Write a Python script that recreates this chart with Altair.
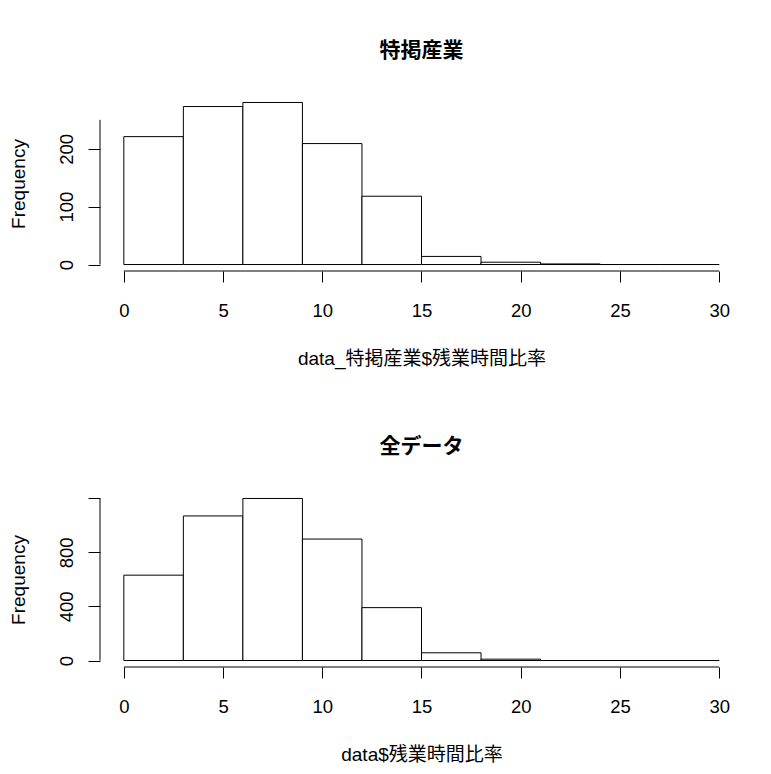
import altair as alt
import pandas as pd

# ---- data ----
bin_starts = [0, 3, 6, 9, 12, 15, 18, 21, 24, 27]
bin_ends = [3, 6, 9, 12, 15, 18, 21, 24, 27, 30]
counts_special = [221, 273, 280, 209, 118, 14, 4, 1, 0, 0]
counts_all = [631, 1069, 1198, 898, 391, 57, 10, 0, 0, 0]

x_ticks = [0, 5, 10, 15, 20, 25, 30]
y_ticks_special = [0, 50, 100, 150, 200, 250]
y_labels_special = [0, 100, 200]
y_ticks_all = [0, 200, 400, 600, 800, 1000, 1200]
y_labels_all = [0, 400, 800]

title_special = "特掲産業"
title_all = "全データ"
xtitle_special = "data_特掲産業$残業時間比率"
xtitle_all = "data$残業時間比率"
ytitle = "Frequency"

W, H = 643, 175
LATIN = "Liberation Sans"
MIXED = "Liberation Sans, Noto Sans CJK JP"


def panel(counts, yticks, ylabels, title, xtitle):
    df = pd.DataFrame({"start": bin_starts, "end": bin_ends, "count": counts})
    m = max(counts)
    xdom = [-0.04 * 30, 30 * 1.04]
    ydom = [-0.04 * m, 1.04 * m]
    xscale = alt.Scale(domain=xdom, nice=False, zero=False)
    yscale = alt.Scale(domain=ydom, nice=False, zero=False)
    lab_list = "[" + ",".join(str(v) for v in ylabels) + "]"
    bars = alt.Chart(df).mark_rect(fill="white", stroke="black", strokeWidth=1).encode(
        x=alt.X("start:Q", scale=xscale,
                axis=alt.Axis(values=x_ticks, title=xtitle, domain=False, grid=False,
                              tickSize=11, tickColor="black", labelColor="black",
                              labelFont=LATIN, labelFontSize=18.5, labelPadding=34,
                              labelBaseline="alphabetic", labelAlign="center",
                              titleFont=MIXED, titleFontSize=19, titleFontWeight="normal",
                              titleColor="black", titleBaseline="alphabetic", titleY=93)),
        x2="end:Q",
        y=alt.Y("count:Q", scale=yscale,
                axis=alt.Axis(values=yticks, title=ytitle, domain=False, grid=False,
                              tickSize=12, tickColor="black", labelColor="black",
                              labelFont=LATIN, labelFontSize=18.5, labelAngle=-90,
                              labelAlign="center", labelBaseline="alphabetic", labelPadding=16,
                              labelExpr=f"indexof({lab_list}, datum.value) >= 0 ? datum.label : ''",
                              titleFont=LATIN, titleFontSize=19, titleFontWeight="normal",
                              titleColor="black", titleAngle=-90, titleBaseline="alphabetic",
                              titleAlign="center", titleX=-76)),
        y2=alt.datum(0),
    )
    yline = alt.Chart(pd.DataFrame({"a": [yticks[0]], "b": [yticks[-1]]})).mark_rule(
        color="black", strokeWidth=1).encode(
        x=alt.value(0), y=alt.Y("a:Q", scale=yscale), y2="b:Q")
    xline = alt.Chart(pd.DataFrame({"a": [x_ticks[0]], "b": [x_ticks[-1]]})).mark_rule(
        color="black", strokeWidth=1).encode(
        y=alt.value(H), x=alt.X("a:Q", scale=xscale), x2="b:Q")
    return alt.layer(bars, yline, xline).properties(
        width=W, height=H,
        title=alt.TitleParams(title, font="Noto Sans CJK JP", fontSize=21, fontWeight="bold",
                              color="black", anchor="middle", baseline="alphabetic",
                              offset=18.5, frame="group"),
    )


top = panel(counts_special, y_ticks_special, y_labels_special, title_special, xtitle_special)
bottom = panel(counts_all, y_ticks_all, y_labels_all, title_all, xtitle_all)

chart = alt.vconcat(top, bottom, spacing=221, bounds="flush").configure(
    background="white",
    padding={"left": 0, "top": 31, "right": 5, "bottom": 5},
    view=alt.ViewConfig(stroke=None),
)

chart.save("out.html", embed_options={"renderer": "svg", "actions": False})
